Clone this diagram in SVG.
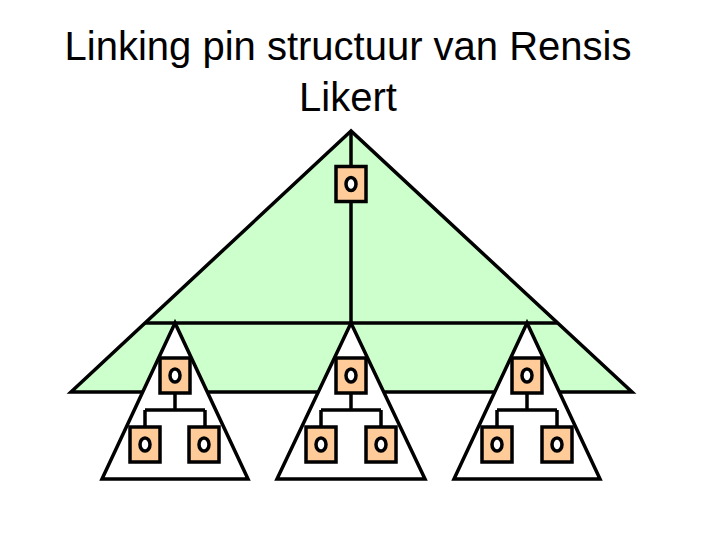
<svg xmlns="http://www.w3.org/2000/svg" width="720" height="540" viewBox="0 0 720 540">
<style>
.t{font-family:"Liberation Sans",Arial,sans-serif;font-size:40px;fill:#000;text-anchor:middle}
.ln{stroke:#000;stroke-width:3.5;fill:none}
.box{fill:#FFCC99;stroke:#000;stroke-width:3.5}
.pin{fill:#fff;stroke:#000;stroke-width:3.5}
.tri{fill:#fff;stroke:#000;stroke-width:3.5;stroke-linejoin:miter}
</style>
<defs>
<g id="unit">
<rect class="box" x="-15" y="-17.5" width="30" height="35"/>
<ellipse class="pin" cx="0" cy="0" rx="5" ry="6.5"/>
</g>
</defs>
<rect width="720" height="540" fill="#fff"/>
<g id="title">
<text class="t" x="348" y="60">Linking pin structuur van Rensis</text>
<text class="t" x="348" y="111">Likert</text>
</g>
<g id="big-triangle">
<polygon points="351,131 71,392 632,392" fill="#CCFFCC" stroke="#000" stroke-width="3.5" stroke-linejoin="miter"/>
</g>
<g id="connectors">
<line class="ln" x1="351" y1="131" x2="351" y2="323"/>
<line class="ln" x1="145" y1="323" x2="558" y2="323"/>
</g>
<g id="group-left">
<polygon class="tri" points="175,323 102,479 248,479"/>
<path class="ln" d="M175,393 V410 M145,410 H205 M145,410 V427 M205,410 V427"/>
<use href="#unit" x="175" y="375.5"/>
<use href="#unit" x="145" y="444.5"/>
<use href="#unit" x="204" y="444.5"/>
</g>
<g id="group-middle">
<polygon class="tri" points="351,323 277,479 425,479"/>
<path class="ln" d="M351,393 V410 M321,410 H381 M321,410 V427 M381,410 V427"/>
<use href="#unit" x="351" y="375.5"/>
<use href="#unit" x="321" y="444.5"/>
<use href="#unit" x="381" y="444.5"/>
</g>
<g id="group-right">
<polygon class="tri" points="527,323 454,479 600,479"/>
<path class="ln" d="M527,393 V410 M497,410 H557 M497,410 V427 M557,410 V427"/>
<use href="#unit" x="527" y="375.5"/>
<use href="#unit" x="497" y="444.5"/>
<use href="#unit" x="557" y="444.5"/>
</g>
<g id="top-node">
<use href="#unit" x="351" y="184"/>
</g>
</svg>
